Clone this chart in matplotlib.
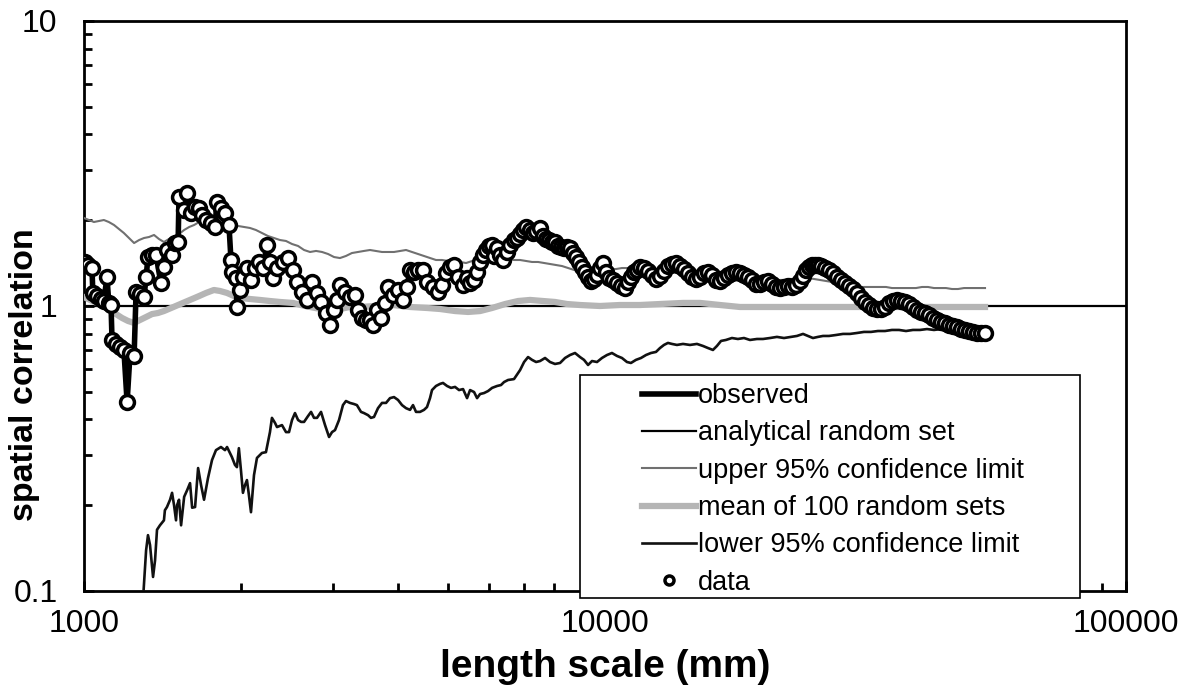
import matplotlib.pyplot as plt
from matplotlib.patches import Rectangle
from matplotlib.ticker import LogLocator, NullFormatter

plt.rcParams['font.family'] = ['Liberation Sans', 'DejaVu Sans']

# observed spatial correlation (length scale in mm)
obs_x = [1004, 1018, 1036, 1040, 1059, 1078, 1092, 1107, 1116, 1127,
         1132, 1152, 1172, 1193, 1210, 1226, 1248, 1259, 1281, 1304,
         1316, 1327, 1351, 1375, 1405, 1424, 1443, 1476, 1496, 1516,
         1522, 1557, 1578, 1606, 1634, 1664, 1685, 1715, 1753, 1784,
         1800, 1832, 1865, 1898, 1915, 1923, 1958, 1966, 1992, 2019,
         2055, 2092, 2129, 2167, 2206, 2245, 2275, 2305, 2347, 2410,
         2464, 2519, 2564, 2621, 2680, 2740, 2801, 2851, 2915, 2967,
         3020, 3060, 3100, 3169, 3240, 3312, 3356, 3417, 3478, 3540,
         3587, 3651, 3716, 3783, 3833, 3919, 4007, 4096, 4169, 4225,
         4300, 4377, 4475, 4554, 4677, 4781, 4867, 4954, 5042, 5132,
         5224, 5341, 5436, 5509, 5607, 5682, 5758, 5835, 5913, 5991,
         6072, 6126, 6208, 6290, 6374, 6487, 6573, 6689, 6780, 6872,
         6964, 7056, 7181, 7277, 7375, 7505, 7605, 7707, 7809, 7913,
         8018, 8125, 8235, 8345, 8457, 8569, 8683, 8799, 8916, 9035,
         9155, 9279, 9402, 9527, 9654, 9781, 9912, 10045, 10178, 10359,
         10544, 10731, 10923, 11069, 11216, 11366, 11517, 11674, 11882, 12092,
         12310, 12529, 12752, 12978, 13209, 13444, 13683, 13932, 14180, 14433,
         14690, 14950, 15219, 15489, 15765, 16045, 16330, 16625, 16917, 17218,
         17525, 17837, 18161, 18483, 18812, 19147, 19490, 19841, 20194, 20552,
         20919, 21290, 21674, 22059, 22451, 22850, 23257, 23675, 23995, 24310,
         24632, 24962, 25294, 25630, 25980, 26441, 26915, 27390, 27880, 28380,
         28886, 29400, 29920, 30453, 31000, 31552, 32110, 32683, 33265, 33870,
         34471, 35085, 35708, 36344, 36990, 37656, 38325, 39007, 39702, 40415,
         41136, 41870, 42610, 43369, 44155, 44940, 45740, 46553, 47382, 48230,
         49090, 49965, 50850, 51756, 52690, 53630]
obs_y = [1.427, 1.393, 1.359, 1.111, 1.084, 1.058, 1.041, 1.264, 1.025, 1.008,
         0.760, 0.736, 0.718, 0.701, 0.460, 0.684, 0.668, 1.120, 1.102, 1.075,
         1.264, 1.485, 1.510, 1.510, 1.204, 1.370, 1.572, 1.510, 1.663, 1.677,
         2.413, 2.172, 2.492, 2.120, 2.226, 2.208, 2.086, 2.003, 1.955, 1.893,
         2.317, 2.208, 2.120, 1.924, 1.450, 1.316, 1.254, 0.992, 1.138, 1.264,
         1.359, 1.234, 1.359, 1.427, 1.359, 1.637, 1.427, 1.254, 1.359, 1.427,
         1.473, 1.338, 1.214, 1.120, 1.050, 1.214, 1.111, 1.033, 0.945, 0.858,
         0.968, 1.050, 1.185, 1.120, 1.075, 1.093, 0.968, 0.908, 0.893, 0.893,
         0.858, 0.968, 0.908, 1.025, 1.166, 1.093, 1.138, 1.050, 1.166, 1.338,
         1.316, 1.338, 1.338, 1.214, 1.166, 1.120, 1.185, 1.306, 1.370, 1.393,
         1.264, 1.185, 1.254, 1.204, 1.234, 1.316, 1.427, 1.510, 1.572, 1.624,
         1.637, 1.498, 1.598, 1.510, 1.450, 1.547, 1.637, 1.704, 1.732, 1.789,
         1.848, 1.893, 1.848, 1.803, 1.833, 1.878, 1.760, 1.718, 1.704, 1.677,
         1.677, 1.624, 1.611, 1.598, 1.611, 1.598, 1.534, 1.485, 1.427, 1.370,
         1.316, 1.264, 1.224, 1.244, 1.285, 1.359, 1.415, 1.316, 1.254, 1.234,
         1.204, 1.175, 1.156, 1.214, 1.264, 1.316, 1.338, 1.370, 1.359, 1.327,
         1.285, 1.244, 1.274, 1.327, 1.381, 1.404, 1.415, 1.381, 1.349, 1.306,
         1.264, 1.244, 1.264, 1.306, 1.316, 1.285, 1.234, 1.224, 1.254, 1.285,
         1.306, 1.316, 1.306, 1.285, 1.264, 1.234, 1.195, 1.195, 1.214, 1.224,
         1.195, 1.166, 1.156, 1.166, 1.175, 1.166, 1.185, 1.224, 1.274, 1.338,
         1.370, 1.393, 1.393, 1.393, 1.381, 1.359, 1.338, 1.306, 1.264, 1.234,
         1.204, 1.175, 1.147, 1.111, 1.067, 1.033, 1.008, 0.984, 0.976, 0.976,
         0.992, 1.025, 1.041, 1.050, 1.041, 1.033, 1.016, 0.992, 0.968, 0.953,
         0.945, 0.930, 0.908, 0.893, 0.879, 0.872, 0.858, 0.851, 0.844, 0.830,
         0.824, 0.817, 0.811, 0.804, 0.804, 0.804]

# analytical random set
analytic_x = [1000, 100000]
analytic_y = [1.0, 1.0]

# upper 95% confidence limit
upper_x = [1000, 1022, 1045, 1068, 1092, 1116, 1142, 1167, 1193, 1220,
           1248, 1276, 1304, 1333, 1363, 1393, 1424, 1456, 1489, 1522,
           1557, 1592, 1627, 1664, 1700, 1738, 1776, 1824, 1873, 1923,
           1975, 2028, 2083, 2138, 2196, 2255, 2316, 2378, 2442, 2508,
           2576, 2645, 2716, 2789, 2864, 2941, 3020, 3100, 3183, 3268,
           3356, 3447, 3540, 3635, 3733, 3833, 3936, 4043, 4151, 4262,
           4377, 4494, 4615, 4739, 4867, 4998, 5132, 5271, 5412, 5558,
           5707, 5861, 6018, 6180, 6345, 6516, 6689, 6872, 7056, 7245,
           7440, 7639, 7843, 8053, 8271, 8494, 8722, 8955, 9196, 9444,
           9697, 9956, 10223, 10497, 10780, 11069, 11366, 11674, 11988, 12310,
           12641, 12978, 13326, 13683, 14055, 14433, 14818, 15219, 15627, 16045,
           16474, 16917, 17371, 17837, 18321, 18812, 19318, 19841, 20373, 20919,
           21478, 22059, 22650, 23257, 23885, 24525, 25183, 25865, 26560, 27270,
           28000, 28760, 29528, 30319, 31138, 31970, 32828, 33720, 34623, 35552,
           36507, 37490, 38495, 39527, 40593, 41684, 42800, 43960, 45141, 46350,
           47593, 48873, 50184, 51530, 53630]
upper_y = [2.036, 2.003, 1.971, 1.987, 2.003, 1.971, 1.924, 1.863, 1.803, 1.732,
           1.663, 1.704, 1.732, 1.746, 1.775, 1.718, 1.677, 1.718, 1.746, 1.789,
           1.848, 1.893, 1.924, 1.971, 1.971, 1.955, 1.940, 1.909, 1.893, 1.893,
           1.909, 1.893, 1.878, 1.848, 1.803, 1.760, 1.732, 1.704, 1.691, 1.650,
           1.624, 1.572, 1.547, 1.560, 1.547, 1.522, 1.485, 1.473, 1.498, 1.534,
           1.547, 1.560, 1.572, 1.560, 1.547, 1.547, 1.547, 1.560, 1.572, 1.547,
           1.522, 1.498, 1.473, 1.450, 1.450, 1.438, 1.427, 1.427, 1.415, 1.438,
           1.450, 1.462, 1.450, 1.462, 1.473, 1.462, 1.450, 1.450, 1.438, 1.427,
           1.427, 1.415, 1.404, 1.393, 1.381, 1.359, 1.338, 1.327, 1.316, 1.316,
           1.327, 1.338, 1.348, 1.348, 1.359, 1.359, 1.359, 1.359, 1.349, 1.338,
           1.327, 1.316, 1.306, 1.306, 1.306, 1.295, 1.285, 1.285, 1.285, 1.274,
           1.274, 1.274, 1.264, 1.264, 1.264, 1.264, 1.254, 1.254, 1.244, 1.234,
           1.234, 1.234, 1.244, 1.244, 1.254, 1.254, 1.244, 1.234, 1.224, 1.214,
           1.204, 1.195, 1.185, 1.175, 1.166, 1.166, 1.166, 1.166, 1.166, 1.156,
           1.156, 1.156, 1.156, 1.156, 1.166, 1.166, 1.156, 1.156, 1.156, 1.147,
           1.147, 1.156, 1.156, 1.156, 1.156]

# mean of 100 random sets
mean_x = [1000, 1027, 1059, 1092, 1122, 1152, 1183, 1215, 1248, 1281,
          1316, 1351, 1387, 1424, 1470, 1516, 1564, 1613, 1664, 1715,
          1776, 1824, 1882, 1940, 2001, 2083, 2177, 2275, 2378, 2519,
          2656, 2777, 2928, 3100, 3240, 3387, 3619, 3919, 4225, 4554,
          4825, 5155, 5460, 5758, 6072, 6430, 6810, 7181, 7605, 8018,
          8457, 8955, 9781, 10686, 11674, 12752, 14117, 15219, 16625, 18161,
          19841, 21962, 24203, 27031, 30864, 35240, 40240, 45942, 53630]
mean_y = [1.075, 1.050, 1.025, 0.992, 0.968, 0.937, 0.908, 0.886, 0.872, 0.893,
          0.915, 0.937, 0.945, 0.960, 0.984, 1.008, 1.033, 1.058, 1.084, 1.111,
          1.138, 1.129, 1.111, 1.084, 1.067, 1.058, 1.050, 1.041, 1.033, 1.025,
          1.000, 0.984, 0.968, 0.976, 0.992, 0.992, 1.000, 1.008, 0.992, 0.984,
          0.976, 0.960, 0.953, 0.960, 0.984, 1.016, 1.041, 1.050, 1.041, 1.033,
          1.016, 1.008, 1.000, 1.008, 1.008, 1.016, 1.025, 1.025, 1.008, 0.992,
          0.992, 0.992, 0.992, 0.992, 0.992, 0.992, 0.992, 0.992, 0.992]

# lower 95% confidence limit
lower_x = [1298, 1316, 1327, 1339, 1357, 1369, 1381, 1399, 1424, 1430,
           1443, 1463, 1476, 1489, 1502, 1509, 1522, 1536, 1557, 1578,
           1598, 1613, 1634, 1656, 1678, 1700, 1730, 1761, 1792, 1832,
           1865, 1882, 1923, 1949, 1966, 1983, 2001, 2019, 2037, 2055,
           2073, 2092, 2120, 2148, 2196, 2235, 2275, 2295, 2326, 2347,
           2399, 2442, 2475, 2508, 2541, 2576, 2610, 2645, 2692, 2728,
           2764, 2801, 2851, 2902, 2954, 2993, 3033, 3087, 3141, 3183,
           3240, 3297, 3341, 3402, 3447, 3509, 3555, 3603, 3667, 3733,
           3800, 3867, 3936, 4007, 4078, 4151, 4225, 4281, 4338, 4416,
           4494, 4554, 4615, 4656, 4739, 4825, 4888, 4976, 5064, 5155,
           5247, 5341, 5436, 5509, 5607, 5682, 5758, 5861, 5965, 6072,
           6208, 6316, 6402, 6516, 6689, 6872, 6994, 7118, 7245, 7375,
           7505, 7673, 7843, 8018, 8199, 8382, 8569, 8760, 8955, 9115,
           9279, 9444, 9654, 9868, 10089, 10313, 10544, 10780, 11020, 11216,
           11466, 11726, 11988, 12254, 12529, 12752, 12978, 13209, 13444, 13744,
           14117, 14560, 15016, 15421, 15765, 16115, 16401, 16700, 17068, 17525,
           17995, 18483, 18980, 19575, 20104, 20735, 21382, 22059, 22751, 23359,
           23995, 24525, 25071, 25630, 26210, 26915, 27750, 28632, 29528, 30453,
           31413, 32400, 33414, 34471, 35552, 36677, 37823, 39007, 40240, 41500,
           42800, 44155, 45534, 46966, 48445, 50184, 51985, 53630]
lower_y = [0.093, 0.139, 0.157, 0.145, 0.112, 0.128, 0.164, 0.170, 0.177, 0.192,
           0.197, 0.209, 0.221, 0.200, 0.177, 0.200, 0.209, 0.170, 0.214, 0.226,
           0.239, 0.196, 0.197, 0.270, 0.235, 0.209, 0.249, 0.288, 0.312, 0.320,
           0.312, 0.320, 0.295, 0.277, 0.272, 0.317, 0.266, 0.221, 0.235, 0.245,
           0.217, 0.189, 0.255, 0.293, 0.305, 0.307, 0.361, 0.405, 0.389, 0.376,
           0.382, 0.361, 0.361, 0.398, 0.421, 0.398, 0.392, 0.392, 0.411, 0.425,
           0.405, 0.405, 0.425, 0.382, 0.347, 0.361, 0.367, 0.398, 0.449, 0.464,
           0.457, 0.453, 0.449, 0.425, 0.421, 0.414, 0.405, 0.408, 0.438, 0.457,
           0.457, 0.475, 0.479, 0.468, 0.449, 0.438, 0.432, 0.449, 0.425, 0.425,
           0.432, 0.442, 0.475, 0.507, 0.524, 0.533, 0.537, 0.524, 0.516, 0.520,
           0.507, 0.511, 0.475, 0.507, 0.499, 0.475, 0.491, 0.495, 0.503, 0.516,
           0.524, 0.528, 0.541, 0.550, 0.554, 0.596, 0.636, 0.662, 0.647, 0.636,
           0.641, 0.657, 0.636, 0.626, 0.631, 0.657, 0.673, 0.684, 0.662, 0.647,
           0.621, 0.641, 0.636, 0.657, 0.673, 0.684, 0.668, 0.657, 0.636, 0.631,
           0.647, 0.657, 0.673, 0.684, 0.690, 0.712, 0.730, 0.742, 0.736, 0.730,
           0.736, 0.730, 0.736, 0.724, 0.712, 0.701, 0.724, 0.754, 0.760, 0.772,
           0.766, 0.772, 0.760, 0.766, 0.766, 0.772, 0.779, 0.772, 0.779, 0.785,
           0.798, 0.785, 0.772, 0.779, 0.785, 0.785, 0.791, 0.798, 0.798, 0.804,
           0.811, 0.811, 0.817, 0.817, 0.824, 0.824, 0.817, 0.824, 0.824, 0.830,
           0.824, 0.830, 0.830, 0.830, 0.837, 0.830, 0.837, 0.837]

x_ticks = [1000, 10000, 100000]
x_ticklabels = ['1000', '10000', '100000']
y_ticks = [0.1, 1, 10]
y_ticklabels = ['0.1', '1', '10']

fig = plt.figure(figsize=(11.86, 6.86), dpi=100)
ax = fig.add_axes([0.0708, 0.1385, 0.8786, 0.8309])

ax.plot(analytic_x, analytic_y, color='black', lw=1.6, zorder=2,
        label='analytical random set')
ax.plot(upper_x, upper_y, color='#707070', lw=1.5, zorder=3,
        label='upper 95% confidence limit')
ax.plot(mean_x, mean_y, color='#b5b5b5', lw=4.5, zorder=3,
        label='mean of 100 random sets')
ax.plot(lower_x, lower_y, color='#111111', lw=1.9, zorder=3,
        label='lower 95% confidence limit')
ax.plot(obs_x, obs_y, color='black', lw=4, zorder=4, label='observed')
ax.plot(obs_x, obs_y, 'o', ms=10, mfc='white', mec='black', mew=2.5,
        zorder=5, label='data')

ax.set_xscale('log')
ax.set_yscale('log')
ax.set_xlim(1000, 100000)
ax.set_ylim(0.1, 10)
ax.set_xticks(x_ticks)
ax.set_xticklabels(x_ticklabels)
ax.set_yticks(y_ticks)
ax.set_yticklabels(y_ticklabels)
for axis in (ax.xaxis, ax.yaxis):
    axis.set_minor_locator(LogLocator(base=10, subs=range(2, 10)))
    axis.set_minor_formatter(NullFormatter())
ax.tick_params(which='both', direction='in', width=2, top=False, right=False)
ax.tick_params(which='major', length=7)
ax.tick_params(which='minor', length=6)
ax.tick_params(axis='x', which='major', labelsize=23, pad=13)
ax.tick_params(axis='y', which='major', labelsize=23, pad=19)
for sp in ax.spines.values():
    sp.set_linewidth(2)

fig.text(605 / 1186, 1 - 667 / 686, 'length scale (mm)', ha='center',
         va='center', fontsize=28, fontweight='bold')
fig.text(25 / 1186, 1 - 375 / 686, 'spatial correlation', ha='center',
         va='center', rotation=90, fontsize=24.5, fontweight='bold')

# legend box (white, overlapping the bottom axis line)
box = Rectangle((580 / 1186, 1 - 598 / 686), 500 / 1186, 223 / 686,
                transform=fig.transFigure, facecolor='white',
                edgecolor='black', lw=1.2, zorder=3)
fig.patches.append(box)

h, l = ax.get_legend_handles_labels()
order = ['observed', 'analytical random set', 'upper 95% confidence limit',
         'mean of 100 random sets', 'lower 95% confidence limit', 'data']
hs = [h[l.index(name)] for name in order]
leg = fig.legend(hs, order, loc='upper left',
                 bbox_to_anchor=(642 / 1186, 1 - 383 / 686),
                 frameon=False, fontsize=19.5, handlelength=2.0,
                 handletextpad=0.05, labelspacing=0.42, borderpad=0,
                 borderaxespad=0, markerscale=0.65)
leg.set_zorder(4)

fig.savefig('out.png', dpi=100)
